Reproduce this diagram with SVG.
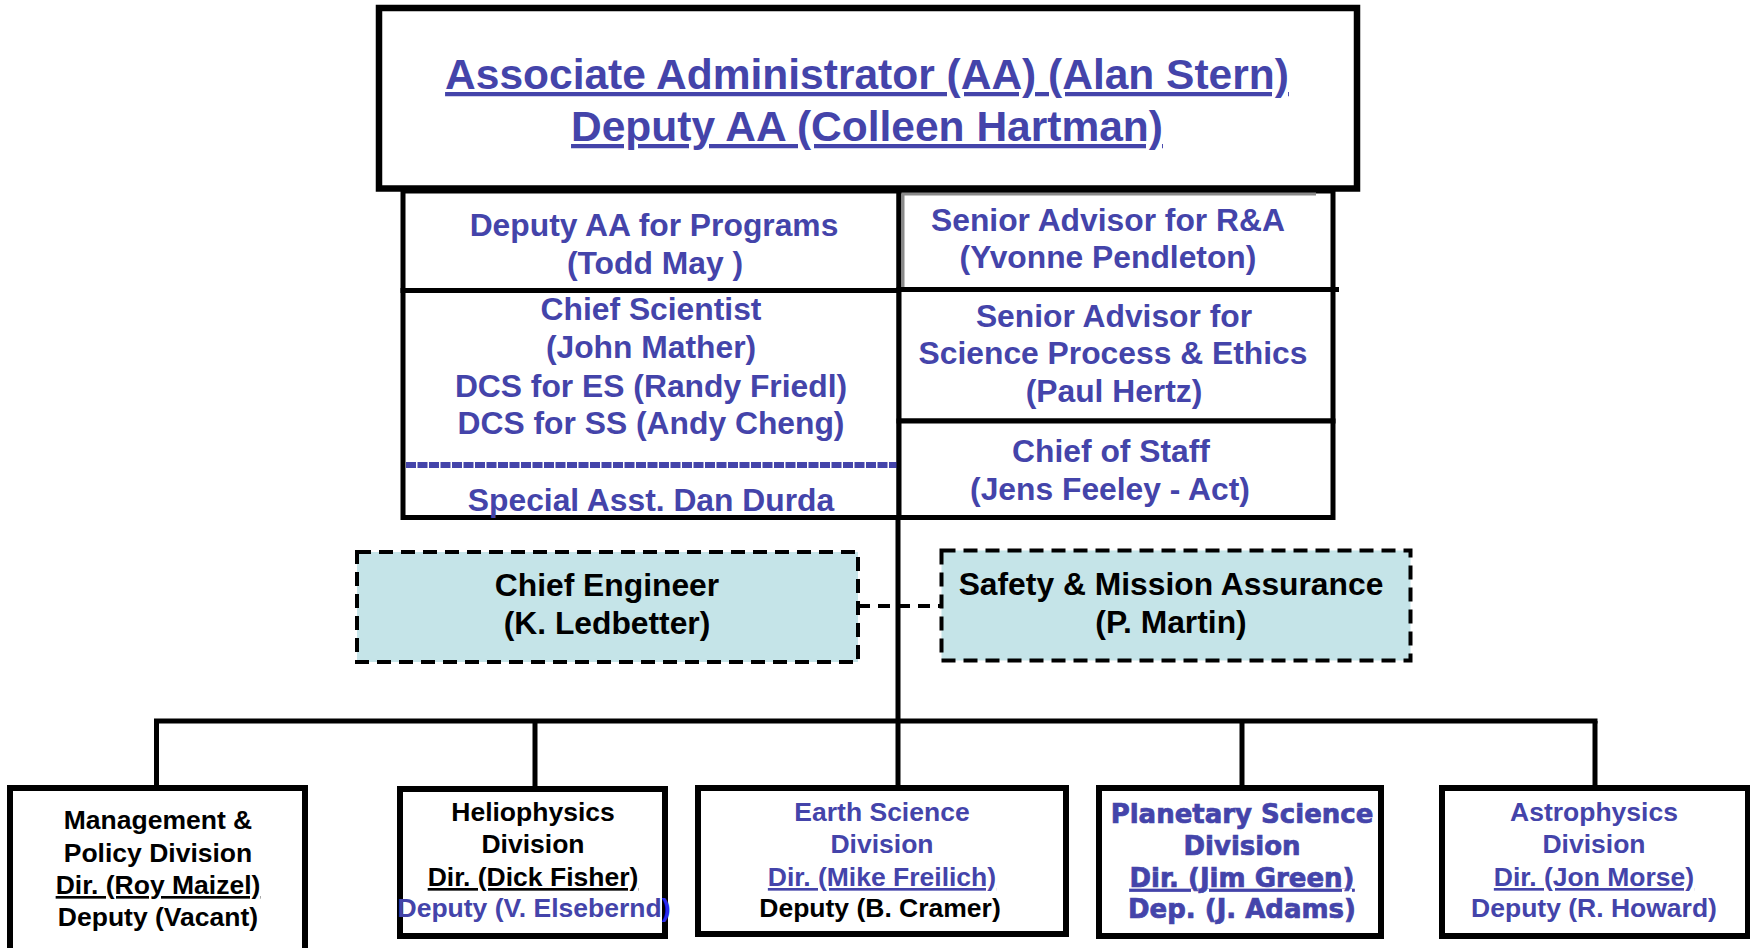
<svg xmlns="http://www.w3.org/2000/svg" width="1750" height="948" viewBox="0 0 1750 948">
<style>
.t{font-family:"Liberation Sans",Arial,sans-serif;font-weight:bold;text-anchor:middle;}
.hv{font-family:"DejaVu Sans","Liberation Sans",sans-serif;font-weight:bold;text-anchor:middle;stroke:#4444aa;stroke-width:0.7;}
.bl{fill:#4444aa;}
.bk{fill:#000;}
.u{text-decoration:underline;}
.box{fill:#fff;stroke:#000;stroke-width:5;}
.bbox{fill:#fff;stroke:#000;stroke-width:6;}
.dbox{fill:#c5e4e8;stroke:#000;stroke-width:4;stroke-dasharray:14 8;}
.ln{stroke:#000;stroke-width:5;fill:none;}
.f42{font-size:42.5px;}
.f32{font-size:31.8px;}
.f26{font-size:26.5px;}
</style>
<rect x="0" y="0" width="1750" height="948" fill="#fff"/>

<g id="connectors">
  <line class="ln" x1="898" y1="517" x2="898" y2="721"/>
  <line class="ln" x1="154" y1="721" x2="1597.5" y2="721" stroke-width="6"/>
  <line class="ln" x1="156.5" y1="721" x2="156.5" y2="788"/>
  <line class="ln" x1="535" y1="721" x2="535" y2="789"/>
  <line class="ln" x1="898" y1="721" x2="898" y2="788"/>
  <line class="ln" x1="1242" y1="721" x2="1242" y2="788"/>
  <line class="ln" x1="1595" y1="721" x2="1595" y2="788"/>
  <line x1="858" y1="606" x2="941" y2="606" stroke="#000" stroke-width="4" stroke-dasharray="12 8"/>
</g>

<g id="associate-administrator">
  <rect x="379" y="8" width="978" height="180.5" fill="#fff" stroke="#000" stroke-width="6.5"/>
  <text class="t bl u f42" x="867" y="89">Associate Administrator (AA) (Alan Stern)</text>
  <text class="t bl u f42" x="867" y="141">Deputy AA (Colleen Hartman)</text>
</g>

<g id="deputy-aa-programs">
  <rect class="box" x="403" y="191" width="496" height="99.5"/>
  <text class="t bl f32" x="654" y="236">Deputy AA for Programs</text>
  <text class="t bl f32" x="655" y="274">(Todd May )</text>
</g>

<g id="chief-scientist">
  <rect class="box" x="403" y="290.5" width="496" height="227"/>
  <text class="t bl f32" x="651" y="320">Chief Scientist</text>
  <text class="t bl f32" x="651" y="358">(John Mather)</text>
  <text class="t bl f32" x="651" y="397">DCS for ES (Randy Friedl)</text>
  <text class="t bl f32" x="651" y="434">DCS for SS (Andy Cheng)</text>
  <line x1="406" y1="465" x2="897" y2="465" stroke="#4444aa" stroke-width="6" stroke-dasharray="10 1.5"/>
  <text class="t bl f32" x="651" y="511">Special Asst. Dan Durda</text>
</g>

<g id="senior-advisor-ra">
  <rect class="box" x="899" y="191" width="434" height="98.5"/>
  <polyline points="903,289 903,194 1316,194" fill="none" stroke="#8a8a8a" stroke-width="3"/>
  <line class="ln" x1="1330" y1="289.5" x2="1339" y2="289.5"/>
  <text class="t bl f32" x="1108" y="231">Senior Advisor for R&amp;A</text>
  <text class="t bl f32" x="1108" y="268">(Yvonne Pendleton)</text>
</g>

<g id="senior-advisor-ethics">
  <rect class="box" x="899" y="289.5" width="434" height="131.5"/>
  <text class="t bl f32" x="1114" y="327">Senior Advisor for</text>
  <text class="t bl f32" x="1113" y="364">Science Process &amp; Ethics</text>
  <text class="t bl f32" x="1114" y="402">(Paul Hertz)</text>
</g>

<g id="chief-of-staff">
  <rect class="box" x="899" y="421" width="434" height="96.5"/>
  <text class="t bl f32" x="1111" y="462">Chief of Staff</text>
  <text class="t bl f32" x="1110" y="500">(Jens Feeley - Act)</text>
</g>

<g id="chief-engineer">
  <rect class="dbox" x="357" y="552" width="501" height="110"/>
  <text class="t bk f32" x="607" y="596">Chief Engineer</text>
  <text class="t bk f32" x="607" y="634">(K. Ledbetter)</text>
</g>

<g id="safety-mission-assurance">
  <rect class="dbox" x="941.5" y="550.5" width="469" height="110"/>
  <text class="t bk f32" x="1171" y="595">Safety &amp; Mission Assurance</text>
  <text class="t bk f32" x="1171" y="633">(P. Martin)</text>
</g>

<g id="management-policy">
  <rect class="bbox" x="10" y="788" width="295" height="200"/>
  <text class="t bk f26" x="158" y="829">Management &amp;</text>
  <text class="t bk f26" x="158" y="862">Policy Division</text>
  <text class="t bk u f26" x="158" y="894">Dir. (Roy Maizel)</text>
  <text class="t bk f26" x="158" y="926">Deputy (Vacant)</text>
</g>

<g id="heliophysics">
  <rect class="bbox" x="400" y="789" width="265" height="147"/>
  <text class="t bk f26" x="533" y="821">Heliophysics</text>
  <text class="t bk f26" x="533" y="853">Division</text>
  <text class="t bk u f26" x="533" y="886">Dir. (Dick Fisher)</text>
  <text class="t bl f26" x="534" y="917">Deputy (V. Elsebernd<tspan fill="#2a2aee">)</tspan></text>
</g>

<g id="earth-science">
  <rect class="bbox" x="698" y="788" width="368" height="146"/>
  <text class="t bl f26" x="882" y="821">Earth Science</text>
  <text class="t bl f26" x="882" y="853">Division</text>
  <text class="t bl u f26" x="882" y="886">Dir. (Mike Freilich)</text>
  <text class="t bk f26" x="880" y="917">Deputy (B. Cramer)</text>
</g>

<g id="planetary-science">
  <rect class="bbox" x="1099" y="788" width="282" height="148"/>
  <text class="hv bl" font-size="26" x="1242" y="823">Planetary Science</text>
  <text class="hv bl" font-size="26" x="1242" y="855">Division</text>
  <text class="hv bl u" font-size="26" x="1242" y="887">Dir. (Jim Green)</text>
  <text class="hv bl" font-size="26" x="1242" y="918">Dep. (J. Adams)</text>
</g>

<g id="astrophysics">
  <rect class="bbox" x="1442" y="788" width="306" height="148"/>
  <text class="t bl f26" x="1594" y="821">Astrophysics</text>
  <text class="t bl f26" x="1594" y="853">Division</text>
  <text class="t bl u f26" x="1594" y="886">Dir. (Jon Morse)</text>
  <text class="t bl f26" x="1594" y="917">Deputy (R. Howard)</text>
</g>
</svg>
